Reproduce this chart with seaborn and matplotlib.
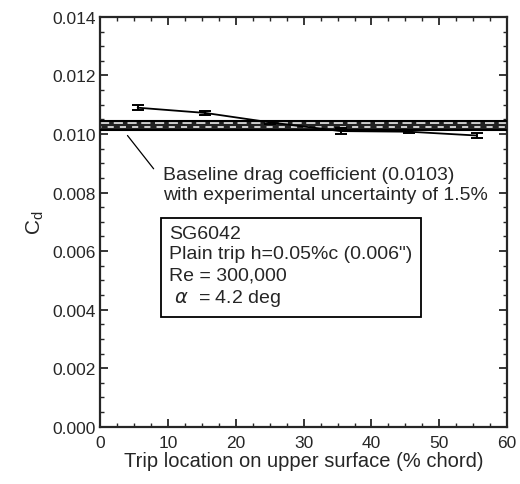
import matplotlib
matplotlib.use('Agg')
import numpy as np
import pandas as pd
import matplotlib.pyplot as plt
import seaborn as sns
from matplotlib.ticker import MultipleLocator, FormatStrFormatter

# data
trip_loc = [5.5, 15.5, 25.0, 35.5, 45.5, 55.5]
cd = [0.01090, 0.01072, 0.01040, 0.01010, 0.01008, 0.00995]
cd_err = [0.00008, 0.00008, 0.00005, 0.00010, 0.00006, 0.00008]
baseline = 0.0103
uncert = 0.015

df = pd.DataFrame({'trip': trip_loc, 'cd': cd})

sns.set_style('ticks')
plt.rcParams['font.family'] = ['Liberation Sans', 'DejaVu Sans']

fig, ax = plt.subplots(figsize=(5.2, 4.85), dpi=100)

# baseline band: dark fill with broken white dashes
lo, hi = baseline * (1 - uncert), baseline * (1 + uncert)
ax.fill_between([0, 60], [lo, lo], [hi, hi], facecolor='#222222', linewidth=0, zorder=2)
for yy, dsh in [(baseline + 0.00007, (0, (6, 3))), (baseline - 0.00006, (3, (4, 4)))]:
    ax.axhline(yy, color='white', lw=1.1, ls=dsh, zorder=2.5)
ax.axhline(lo, color='black', lw=1.5, zorder=3)
ax.axhline(hi, color='black', lw=1.5, zorder=3)

sns.lineplot(data=df, x='trip', y='cd', ax=ax, color='black', lw=1.3, zorder=4)
ax.errorbar(trip_loc, cd, yerr=cd_err, fmt='none', ecolor='black', capsize=4,
            elinewidth=1.4, capthick=1.4, zorder=5)

ax.set_xlim(0, 60)
ax.set_ylim(0, 0.014)
ax.xaxis.set_major_locator(MultipleLocator(10))
ax.xaxis.set_minor_locator(MultipleLocator(2.5))
ax.yaxis.set_major_locator(MultipleLocator(0.002))
ax.yaxis.set_minor_locator(MultipleLocator(0.0005))
ax.yaxis.set_major_formatter(FormatStrFormatter('%.3f'))
ax.tick_params(which='both', direction='in', top=True, right=True, labelsize=12.5)
ax.tick_params(which='major', length=6, width=1.3)
ax.tick_params(which='minor', length=3, width=1.0)
ax.tick_params(axis='x', pad=6)
for s in ax.spines.values():
    s.set_linewidth(1.6)

ax.set_xlabel('Trip location on upper surface (% chord)', fontsize=14.5, labelpad=1)
ax.set_ylabel('$\\mathregular{C_d}$', fontsize=15, labelpad=4)

ax.annotate('Baseline drag coefficient (0.0103)\nwith experimental uncertainty of 1.5%',
            xy=(4.0, 0.00995), xytext=(9.3, 0.00765), fontsize=14, linespacing=1.2,
            arrowprops=dict(arrowstyle='-', color='black', lw=0.9, shrinkB=0, shrinkA=0,
                            relpos=(-0.03, 0.93)),
            va='bottom', ha='left')

ax.text(10.2, 0.0069, 'SG6042\nPlain trip h=0.05%c (0.006")\nRe = 300,000\n $\\alpha$  = 4.2 deg',
        fontsize=14, va='top', ha='left', linespacing=1.28,
        bbox=dict(boxstyle='square,pad=0.45', facecolor='white', edgecolor='black', lw=1.3))

fig.subplots_adjust(left=0.193, right=0.975, top=0.963, bottom=0.118)
fig.savefig('out.png', dpi=100)
